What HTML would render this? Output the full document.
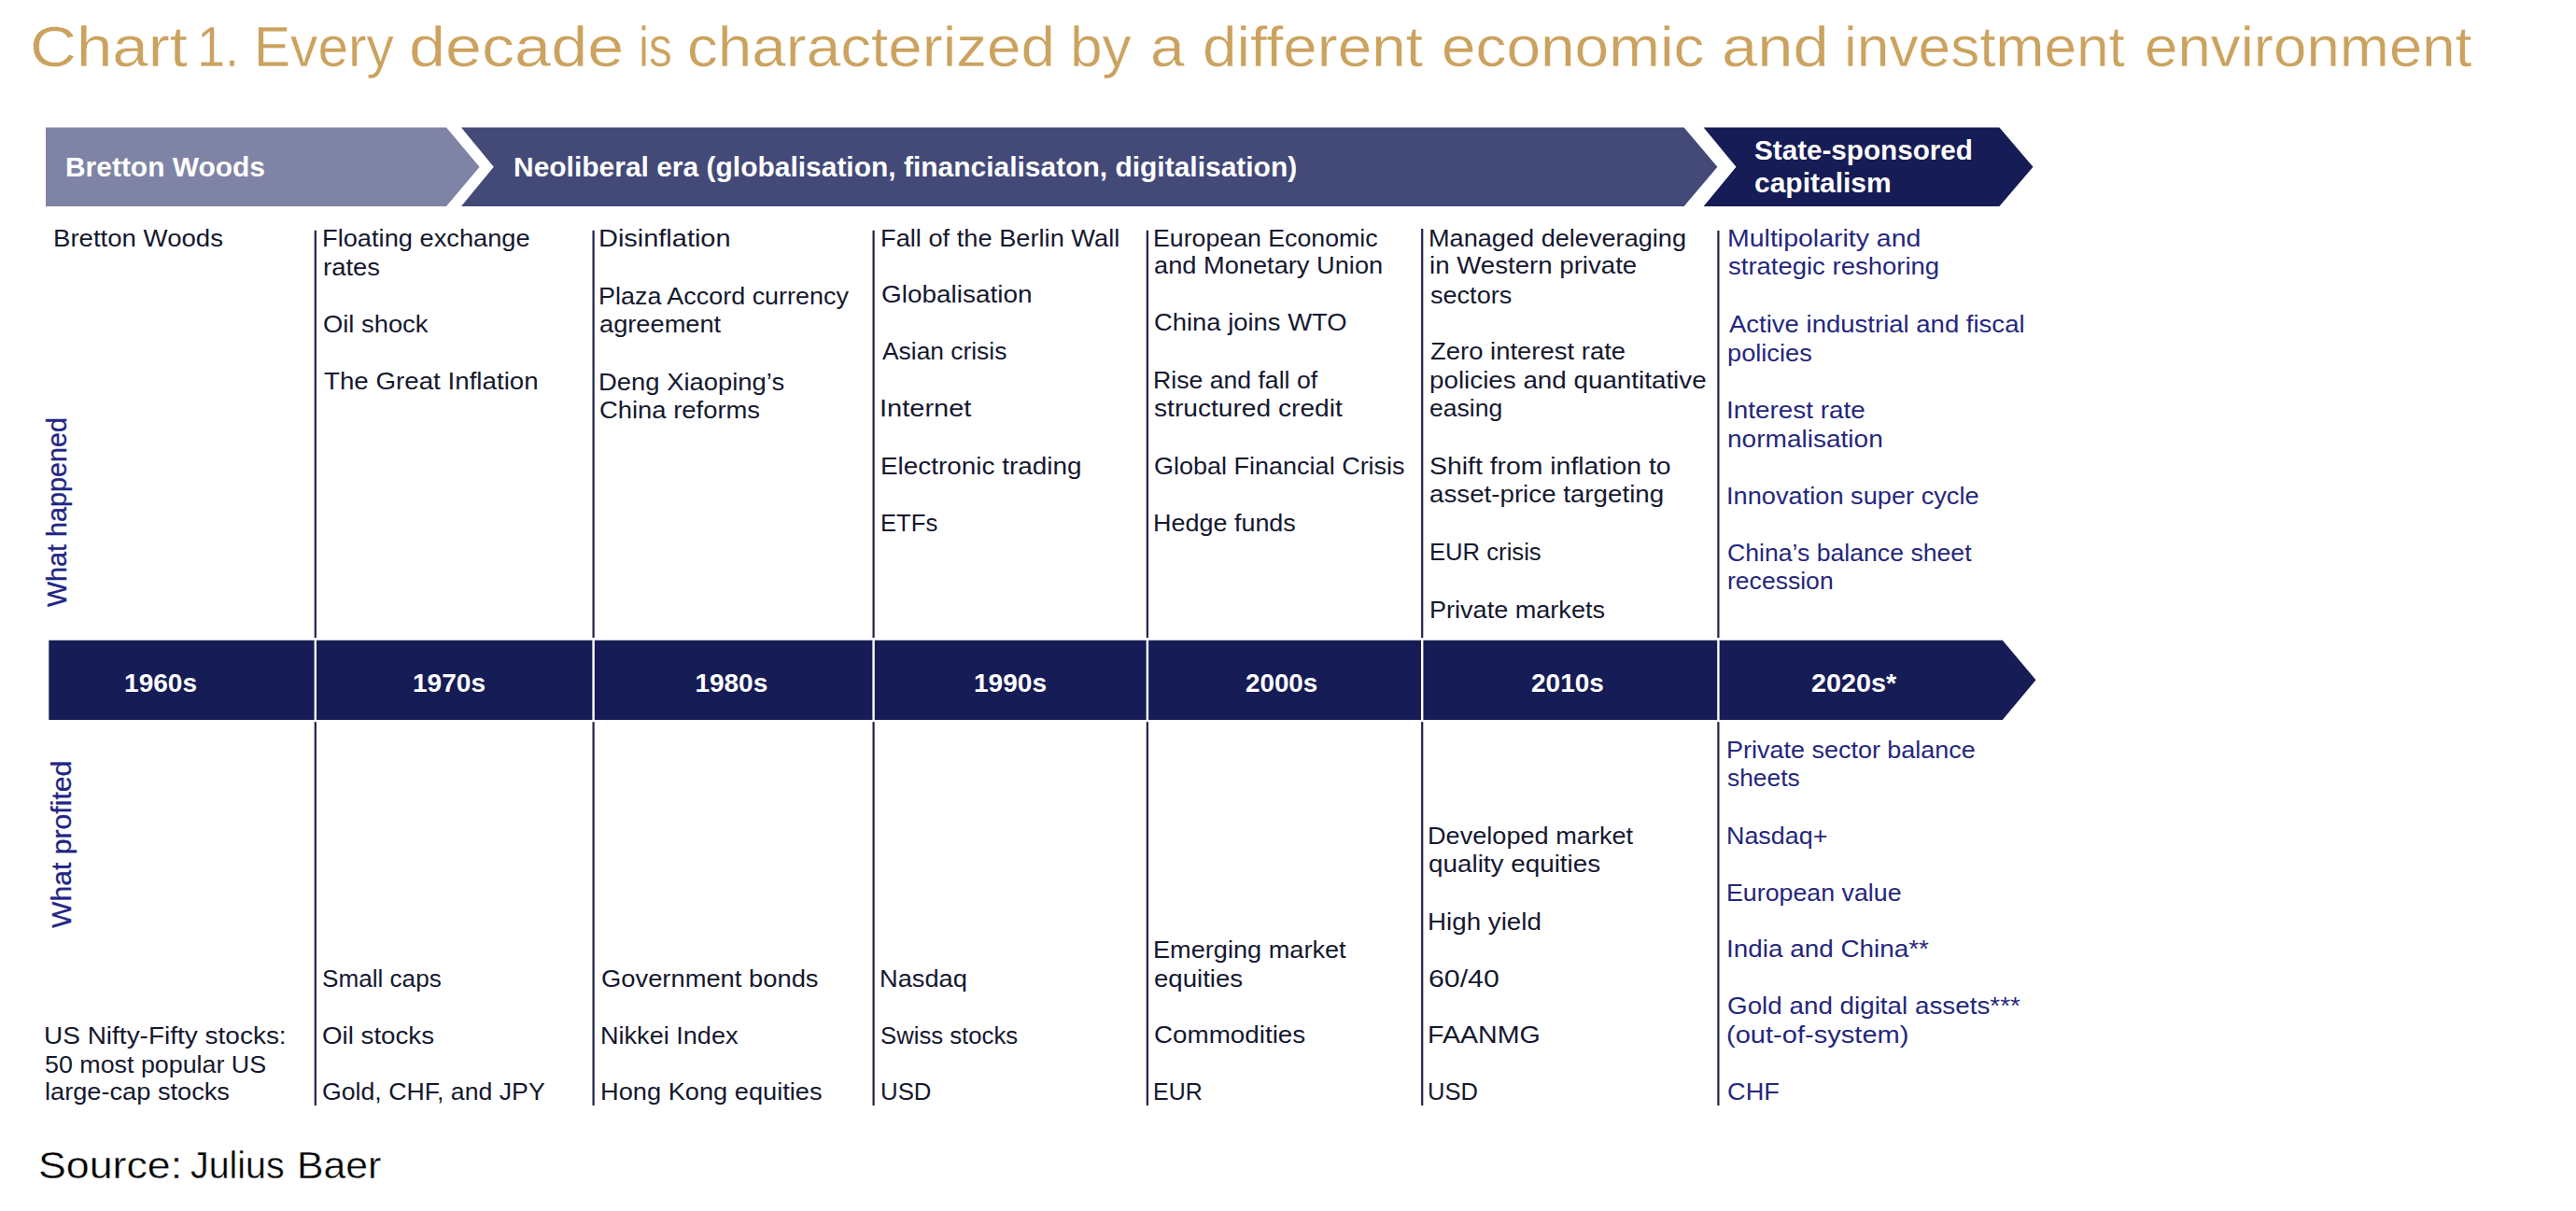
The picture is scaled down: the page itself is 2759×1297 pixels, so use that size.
<!DOCTYPE html>
<html lang="en">
<head>
<meta charset="utf-8">
<title>Chart 1. Every decade is characterized by a different economic and investment environment</title>
<style>
html,body{margin:0;padding:0;background:#fff;}
#page{position:relative;width:2759px;height:1297px;overflow:hidden;background:#fff;font-family:"Liberation Sans", sans-serif;}
#page svg{position:absolute;left:0;top:0;}
#page h1,#page section,#page p{margin:0;padding:0;font:inherit;position:absolute;left:0;top:0;}
#page .x{position:absolute;display:block;margin:0;white-space:nowrap;line-height:1em;transform-origin:0 0;}
#page .d{font-size:26.5px;font-weight:400;color:#15182f;}
#page .b{font-size:26.5px;font-weight:400;color:#25277c;}
#page .h{font-size:29.0px;font-weight:700;color:#ffffff;}
#page .y{font-size:28.0px;font-weight:700;color:#ffffff;}
#page .t{font-size:60.5px;font-weight:400;color:#cba25e;-webkit-text-stroke:0.4px #fff;}
#page .s{font-size:40.5px;font-weight:400;color:#000000;-webkit-text-stroke:0.4px #fff;}
#page .r{color:#1f2684;-webkit-text-stroke:0.3px #1f2684;}
</style>
</head>
<body>
<div id="page">
<svg width="2759" height="1297" viewBox="0 0 2759 1297">
<polygon fill="#7f84a6" points="49,136.5 478,136.5 513.6,178.8 478,221 49,221"/>
<polygon fill="#434a78" points="494,136.5 1803.6,136.5 1839.4,178.8 1803.6,221 494,221 528.8,178.8"/>
<polygon fill="#161c55" points="1824.6,136.5 2141.4,136.5 2177.5,178.8 2141.4,221 1824.6,221 1859.5,178.8"/>
<polygon fill="#161c56" points="52.3,685.7 2144.8,685.7 2180.5,728.3 2144.8,770.9 52.3,770.9"/>
<rect fill="#1f2449" x="336.7" y="246.8" width="2.2" height="436.2"/>
<rect fill="#ffffff" x="336.6" y="684.2" width="2.4" height="87.6"/>
<rect fill="#1f2449" x="336.7" y="773.2" width="2.2" height="410.8"/>
<rect fill="#1f2449" x="634.5" y="246.8" width="2.2" height="436.2"/>
<rect fill="#ffffff" x="634.4" y="684.2" width="2.4" height="87.6"/>
<rect fill="#1f2449" x="634.5" y="773.2" width="2.2" height="410.8"/>
<rect fill="#1f2449" x="934.5" y="246.8" width="2.2" height="436.2"/>
<rect fill="#ffffff" x="934.4" y="684.2" width="2.4" height="87.6"/>
<rect fill="#1f2449" x="934.5" y="773.2" width="2.2" height="410.8"/>
<rect fill="#1f2449" x="1227.8" y="246.8" width="2.2" height="436.2"/>
<rect fill="#ffffff" x="1227.7" y="684.2" width="2.4" height="87.6"/>
<rect fill="#1f2449" x="1227.8" y="773.2" width="2.2" height="410.8"/>
<rect fill="#1f2449" x="1522.1" y="245.0" width="2.2" height="438.0"/>
<rect fill="#ffffff" x="1522.0" y="684.2" width="2.4" height="87.6"/>
<rect fill="#1f2449" x="1522.1" y="773.2" width="2.2" height="410.8"/>
<rect fill="#1f2449" x="1839.3" y="247.0" width="2.2" height="436.0"/>
<rect fill="#ffffff" x="1839.2" y="684.2" width="2.4" height="87.6"/>
<rect fill="#1f2449" x="1839.3" y="773.2" width="2.2" height="410.8"/>
</svg>
<h1>
<span class="x t" style="left:31.7px;top:20px;transform:scaleX(1.1426);">Chart</span> 
<span class="x t" style="left:211.4px;top:20px;transform:scaleX(0.8930);">1.</span> 
<span class="x t" style="left:272.1px;top:20px;transform:scaleX(0.9692);">Every</span> 
<span class="x t" style="left:437.8px;top:20px;transform:scaleX(1.1596);">decade</span> 
<span class="x t" style="left:684.1px;top:20px;transform:scaleX(0.8204);">is</span> 
<span class="x t" style="left:736.3px;top:20px;transform:scaleX(1.0852);">characterized</span> 
<span class="x t" style="left:1146.3px;top:20px;transform:scaleX(1.0282);">by</span> 
<span class="x t" style="left:1231.6px;top:20px;transform:scaleX(1.0894);">a</span> 
<span class="x t" style="left:1288.0px;top:20px;transform:scaleX(1.0846);">different</span> 
<span class="x t" style="left:1544.1px;top:20px;transform:scaleX(1.0871);">economic</span> 
<span class="x t" style="left:1843.9px;top:20px;transform:scaleX(1.1357);">and</span> 
<span class="x t" style="left:1974.8px;top:20px;transform:scaleX(1.0285);">investment</span> 
<span class="x t" style="left:2297.1px;top:20px;transform:scaleX(1.0525);">environment</span>
</h1>
<section>
<div class="x h" style="left:69.5px;top:165px;transform:scaleX(1.0323);">Bretton Woods</div>
<div class="x h" style="left:549.7px;top:165px;transform:scaleX(1.0333);">Neoliberal era (globalisation, financialisaton, digitalisation)</div>
<div class="x h" style="left:1879.2px;top:147px;transform:scaleX(1.0223);">State-sponsored</div>
<div class="x h" style="left:1879.2px;top:182px;transform:scaleX(1.0341);">capitalism</div>
<div class="x d" style="left:56.5px;top:242px;transform:scaleX(1.0409);">Bretton Woods</div>
<div class="x d" style="left:345.0px;top:242px;transform:scaleX(1.0282);">Floating exchange</div>
<div class="x d" style="left:345.5px;top:273px;transform:scaleX(1.0365);">rates</div>
<div class="x d" style="left:345.9px;top:334px;transform:scaleX(1.0321);">Oil shock</div>
<div class="x d" style="left:347.2px;top:395px;transform:scaleX(1.0463);">The Great Inflation</div>
<div class="x d" style="left:640.9px;top:242px;transform:scaleX(1.0921);">Disinflation</div>
<div class="x d" style="left:641.1px;top:304px;transform:scaleX(1.0161);">Plaza Accord currency</div>
<div class="x d" style="left:642.0px;top:334px;transform:scaleX(1.0274);">agreement</div>
<div class="x d" style="left:641.0px;top:396px;transform:scaleX(1.0341);">Deng Xiaoping’s</div>
<div class="x d" style="left:641.8px;top:426px;transform:scaleX(1.0339);">China reforms</div>
<div class="x d" style="left:942.7px;top:242px;transform:scaleX(1.0277);">Fall of the Berlin Wall</div>
<div class="x d" style="left:943.5px;top:302px;transform:scaleX(1.0546);">Globalisation</div>
<div class="x d" style="left:944.7px;top:363px;transform:scaleX(0.9950);">Asian crisis</div>
<div class="x d" style="left:942.3px;top:424px;transform:scaleX(1.0950);">Internet</div>
<div class="x d" style="left:942.7px;top:486px;transform:scaleX(1.0528);">Electronic trading</div>
<div class="x d" style="left:942.9px;top:547px;transform:scaleX(0.9666);">ETFs</div>
<div class="x d" style="left:1235.3px;top:242px;transform:scaleX(1.0081);">European Economic</div>
<div class="x d" style="left:1236.2px;top:271px;transform:scaleX(1.0273);">and Monetary Union</div>
<div class="x d" style="left:1236.0px;top:332px;transform:scaleX(1.0339);">China joins WTO</div>
<div class="x d" style="left:1235.3px;top:394px;transform:scaleX(1.0046);">Rise and fall of</div>
<div class="x d" style="left:1236.2px;top:424px;transform:scaleX(1.0623);">structured credit</div>
<div class="x d" style="left:1236.1px;top:486px;transform:scaleX(1.0190);">Global Financial Crisis</div>
<div class="x d" style="left:1235.3px;top:547px;transform:scaleX(1.0170);">Hedge funds</div>
<div class="x d" style="left:1530.4px;top:242px;transform:scaleX(1.0237);">Managed deleveraging</div>
<div class="x d" style="left:1530.8px;top:271px;transform:scaleX(1.0429);">in Western private</div>
<div class="x d" style="left:1531.8px;top:303px;transform:scaleX(1.0212);">sectors</div>
<div class="x d" style="left:1531.7px;top:363px;transform:scaleX(1.0362);">Zero interest rate</div>
<div class="x d" style="left:1530.8px;top:394px;transform:scaleX(1.0487);">policies and quantitative</div>
<div class="x d" style="left:1531.4px;top:424px;transform:scaleX(1.0021);">easing</div>
<div class="x d" style="left:1531.0px;top:486px;transform:scaleX(1.0708);">Shift from inflation to</div>
<div class="x d" style="left:1531.4px;top:516px;transform:scaleX(1.0459);">asset-price targeting</div>
<div class="x d" style="left:1530.6px;top:578px;transform:scaleX(0.9677);">EUR crisis</div>
<div class="x d" style="left:1531.2px;top:640px;transform:scaleX(1.0213);">Private markets</div>
<div class="x b" style="left:1849.6px;top:242px;transform:scaleX(1.0748);">Multipolarity and</div>
<div class="x b" style="left:1850.7px;top:272px;transform:scaleX(1.0370);">strategic reshoring</div>
<div class="x b" style="left:1851.5px;top:334px;transform:scaleX(1.0382);">Active industrial and fiscal</div>
<div class="x b" style="left:1850.0px;top:365px;transform:scaleX(1.0268);">policies</div>
<div class="x b" style="left:1849.2px;top:426px;transform:scaleX(1.0522);">Interest rate</div>
<div class="x b" style="left:1849.9px;top:457px;transform:scaleX(1.0581);">normalisation</div>
<div class="x b" style="left:1849.3px;top:518px;transform:scaleX(1.0263);">Innovation super cycle</div>
<div class="x b" style="left:1850.4px;top:579px;transform:scaleX(1.0048);">China’s balance sheet</div>
<div class="x b" style="left:1850.0px;top:609px;transform:scaleX(1.0022);">recession</div>
<div class="x y" style="left:133.1px;top:718px;">1960s</div>
<div class="x y" style="left:441.8px;top:718px;transform:scaleX(1.0021);">1970s</div>
<div class="x y" style="left:744.4px;top:718px;">1980s</div>
<div class="x y" style="left:1043.2px;top:718px;transform:scaleX(1.0021);">1990s</div>
<div class="x y" style="left:1334.0px;top:718px;transform:scaleX(0.9920);">2000s</div>
<div class="x y" style="left:1640.0px;top:718px;">2010s</div>
<div class="x y" style="left:1940.4px;top:718px;transform:scaleX(1.0281);">2020s*</div>
<div class="x d" style="left:47.4px;top:1096px;transform:scaleX(1.0560);">US Nifty-Fifty stocks:</div>
<div class="x d" style="left:48.2px;top:1127px;transform:scaleX(1.0125);">50 most popular US</div>
<div class="x d" style="left:47.8px;top:1156px;transform:scaleX(1.0260);">large-cap stocks</div>
<div class="x d" style="left:345.0px;top:1035px;transform:scaleX(0.9856);">Small caps</div>
<div class="x d" style="left:345.2px;top:1096px;transform:scaleX(1.0449);">Oil stocks</div>
<div class="x d" style="left:345.2px;top:1156px;transform:scaleX(1.0065);">Gold, CHF, and JPY</div>
<div class="x d" style="left:643.9px;top:1035px;transform:scaleX(1.0316);">Government bonds</div>
<div class="x d" style="left:643.1px;top:1096px;transform:scaleX(1.0218);">Nikkei Index</div>
<div class="x d" style="left:643.0px;top:1156px;transform:scaleX(1.0272);">Hong Kong equities</div>
<div class="x d" style="left:942.4px;top:1035px;transform:scaleX(1.0274);">Nasdaq</div>
<div class="x d" style="left:943.1px;top:1096px;transform:scaleX(0.9700);">Swiss stocks</div>
<div class="x d" style="left:942.7px;top:1156px;transform:scaleX(0.9734);">USD</div>
<div class="x d" style="left:1235.1px;top:1004px;transform:scaleX(1.0241);">Emerging market</div>
<div class="x d" style="left:1236.0px;top:1035px;transform:scaleX(1.0417);">equities</div>
<div class="x d" style="left:1235.8px;top:1095px;transform:scaleX(1.0488);">Commodities</div>
<div class="x d" style="left:1235.2px;top:1156px;transform:scaleX(0.9410);">EUR</div>
<div class="x d" style="left:1529.2px;top:882px;transform:scaleX(1.0236);">Developed market</div>
<div class="x d" style="left:1530.2px;top:912px;transform:scaleX(1.0507);">quality equities</div>
<div class="x d" style="left:1529.1px;top:974px;transform:scaleX(1.0477);">High yield</div>
<div class="x d" style="left:1529.8px;top:1035px;transform:scaleX(1.1418);">60/40</div>
<div class="x d" style="left:1529.0px;top:1095px;transform:scaleX(1.0782);">FAANMG</div>
<div class="x d" style="left:1529.4px;top:1156px;transform:scaleX(0.9639);">USD</div>
<div class="x b" style="left:1849.0px;top:790px;transform:scaleX(1.0177);">Private sector balance</div>
<div class="x b" style="left:1850.0px;top:820px;transform:scaleX(0.9944);">sheets</div>
<div class="x b" style="left:1849.0px;top:882px;transform:scaleX(1.0143);">Nasdaq+</div>
<div class="x b" style="left:1849.0px;top:943px;transform:scaleX(1.0103);">European value</div>
<div class="x b" style="left:1848.6px;top:1003px;transform:scaleX(1.0516);">India and China**</div>
<div class="x b" style="left:1849.7px;top:1064px;transform:scaleX(1.0493);">Gold and digital assets***</div>
<div class="x b" style="left:1849.4px;top:1095px;transform:scaleX(1.0971);">(out-of-system)</div>
<div class="x b" style="left:1849.8px;top:1156px;transform:scaleX(1.0257);">CHF</div>
<div class="x r" style="left:47.05px;top:650.2px;font-size:29.0px;transform:rotate(-90deg) scaleX(0.9909);">What happened</div>
<div class="x r" style="left:51.65px;top:994.4px;font-size:29.0px;transform:rotate(-90deg) scaleX(1.0399);">What profited</div>
</section>
<p>
<span class="x s" style="left:40.5px;top:1228px;transform:scaleX(1.1042);">Source:</span> 
<span class="x s" style="left:204.4px;top:1228px;transform:scaleX(0.9719);">Julius</span> 
<span class="x s" style="left:318.2px;top:1228px;transform:scaleX(1.0558);">Baer</span>
</p>
</div>
</body>
</html>
